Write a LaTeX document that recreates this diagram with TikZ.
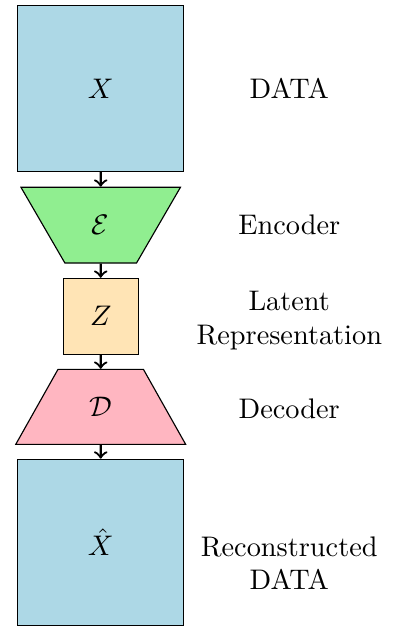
\documentclass[tikz,border=0pt]{standalone}
\usepackage{amsmath}
\usepackage{amsfonts}
\usetikzlibrary{shapes.geometric}

\definecolor{datablue}{RGB}{173,216,230}
\definecolor{encgreen}{RGB}{144,238,144}
\definecolor{latorange}{RGB}{255,228,181}
\definecolor{decpink}{RGB}{255,182,193}

\begin{document}
\begin{tikzpicture}[scale=1,
    block/.style={draw, minimum size=#1, inner sep=0pt},
    trap/.style={draw, trapezium, trapezium stretches=true, inner sep=0pt},
    lab/.style={align=center}]
    \useasboundingbox (0,0) rectangle (4.92,-7.77);

    % The data and the two halves of the network
    \node [block=2.06cm, fill=datablue] (data) at (1.25,-1.10) {$X$};
    \node [trap, fill=encgreen, shape border rotate=180, trapezium angle=61,
           minimum width=1.98cm, minimum height=0.94cm] (enc) at (1.25,-2.795) {$\mathcal{E}$};
    \node [block=0.93cm, minimum height=0.94cm, fill=latorange] (lat) at (1.25,-3.925) {$Z$};
    \node [trap, fill=decpink, trapezium angle=60,
           minimum width=2.11cm, minimum height=0.93cm] (dec) at (1.25,-5.05) {$\mathcal{D}$};
    \node [block=2.06cm, fill=datablue] (rec) at (1.25,-6.73) {$\hat{X}$};

    % Arrows down the chain
    \foreach \a/\b in {data/enc, enc/lat, lat/dec, dec/rec} {
    \draw [->, thick] (\a) -- (\b);
    }

    % Names on the right
    \node [lab] (datalab) at (3.59,-1.093) {DATA};
    \node [lab] (enclab) at (3.59,-2.795) {Encoder};
    \node [lab] (latlab) at (3.59,-3.975) {Latent\\Representation};
    \node [lab] (declab) at (3.59,-5.07) {Decoder};
    \node [lab] (reclab) at (3.59,-6.99) {Reconstructed\\DATA};

\end{tikzpicture}
\end{document}
